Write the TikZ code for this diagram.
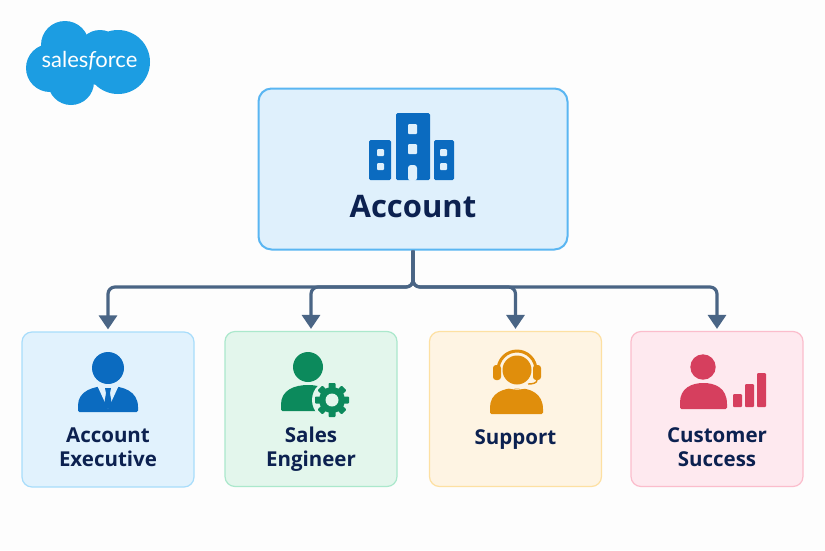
\documentclass[tikz,border=0pt]{standalone}
\usepackage{fontspec}
\setmainfont{Open Sans}
\newfontfamily\logofont{Lato}
\usetikzlibrary{arrows.meta,positioning,calc}
\definecolor{pagewhite}{HTML}{FDFDFD}
\definecolor{cloudblue}{HTML}{1C9DE2}
\definecolor{wireblue}{HTML}{4A6585}
\definecolor{inkblue}{HTML}{0C2150}
\definecolor{iconblue}{HTML}{0B6BC0}
\definecolor{icongreen}{HTML}{0C8A5C}
\definecolor{iconamber}{HTML}{E08E0C}
\definecolor{iconrose}{HTML}{D63F5E}
\definecolor{accountfill}{HTML}{DFF0FC}
\definecolor{accountline}{HTML}{5AB6F2}
\definecolor{bluefill}{HTML}{E1F2FD}
\definecolor{blueline}{HTML}{A8DDFB}
\definecolor{greenfill}{HTML}{E3F6EC}
\definecolor{greenline}{HTML}{ABE8CC}
\definecolor{amberfill}{HTML}{FEF4E3}
\definecolor{amberline}{HTML}{FDE0A2}
\definecolor{rosefill}{HTML}{FEE9EF}
\definecolor{roseline}{HTML}{FBBDCC}
\tikzset{
  card/.style={draw, line width=1.2pt, rounded corners=10pt, minimum width=172pt, minimum height=155pt},
  cardlabel/.style={text=inkblue, align=center, font=\fontsize{20.5}{24}\selectfont\bfseries},
  wire/.style={draw=wireblue, line width=3.2pt, rounded corners=7pt},
  wirehead/.style={-{Triangle[length=14pt,width=18pt]}, shorten >=2pt},
}
% shoulders: centre x, half width, top y, bottom y
\newcommand{\shoulders}[4]{
  (#1-#2,#4) [rounded corners=1.5pt] -- (#1-#2,#4-5) [sharp corners]
  .. controls (#1-#2,#3+5) and (#1-#2*0.5,#3) .. (#1,#3)
  .. controls (#1+#2*0.5,#3) and (#1+#2,#3+5) .. (#1+#2,#4-5)
  [rounded corners=1.5pt] -- (#1+#2,#4) -- cycle
}
\begin{document}
\begin{tikzpicture}[x=1pt, y=-1pt]
  \useasboundingbox[fill=pagewhite] (0,0) rectangle (825,550);

  % logo
  \fill[cloudblue] (65,45) circle[radius=24] (100,52) circle[radius=22] (118,62) circle[radius=32]
    (50,68) circle[radius=24] (71,82) circle[radius=23] (98,70) circle[radius=15];
  \node[text=white, font=\logofont\fontsize{22}{24}\selectfont] (logotext) at (89.5,61) {sales{\itshape f}orce};

  % boxes
  \node[card, draw=accountline, fill=accountfill, line width=2pt, rounded corners=13pt,
    minimum width=309pt, minimum height=161pt] (account) at (413,169) {};
  \node[card, draw=blueline, fill=bluefill] (executive) at (108,409.5) {};
  \node[card, draw=greenline, fill=greenfill] (engineer) at (311,409) {};
  \node[card, draw=amberline, fill=amberfill] (support) at (515.5,409) {};
  \node[card, draw=roseline, fill=rosefill] (success) at (717,409) {};

  % connectors
  \coordinate (bus) at (413,287);
  \foreach \target in {executive,engineer,support,success}
    \draw[wire, wirehead] (account.south) -- (bus) -| (\target.north);

  % building
  \fill[iconblue, rounded corners=1.5pt] (396,113) rectangle (430,180) (369,140) rectangle (391,180) (434,140) rectangle (454,180);
  \fill[accountfill, rounded corners=1pt] (408,124) rectangle (417,134) (408,144) rectangle (417,154)
    (377,149) rectangle (384,156) (377,163) rectangle (384,170) (440,149) rectangle (447,156) (440,163) rectangle (447,170);
  \fill[accountfill, rounded corners=3pt] (408,181) -- (408,165) -- (417,165) -- (417,181) -- cycle;
  \node[text=inkblue, font=\fontsize{31}{36}\selectfont\bfseries] (accounttext) at (413,207) {Account};

  % account executive
  \fill[iconblue] (108,368) circle[radius=16];
  \fill[iconblue] \shoulders{108}{30}{386}{412};
  \fill[bluefill] (96.5,384) -- (119.5,384) -- (108,409) -- cycle;
  \fill[iconblue] (105,388) -- (111,388) -- (110,393) -- (112,405) -- (108,409) -- (104,405) -- (106,393) -- cycle;
  \node[cardlabel] (executivetext) at (108,447) {Account\\Executive};

  % sales engineer
  \fill[icongreen] (308,367) circle[radius=15];
  \fill[icongreen] \shoulders{308}{27}{385}{411};
  \fill[greenfill] (332,400) circle[radius=20];
  \fill[icongreen] (332,400) circle[radius=13];
  \foreach \angle in {0,45,...,315}
    \fill[icongreen, rounded corners=0.8pt, shift={(332,400)}, rotate=\angle] (-3.5,-10) rectangle (3.5,-17);
  \fill[greenfill] (332,400) circle[radius=6.5];
  \node[cardlabel] (engineertext) at (311,449) {Sales\\Engineer};

  % support
  \draw[iconamber, line width=3pt] (498,370) arc[start angle=180, end angle=360, radius=19];
  \fill[iconamber] (517,370) circle[radius=14.5];
  \fill[iconamber, rounded corners=3pt] (493,365) rectangle (501,380) (533,365) rectangle (541,380);
  \draw[iconamber, line width=1.4pt] (537,380) .. controls (537,383) and (533,384) .. (528,384);
  \fill[iconamber] \shoulders{516.5}{26.5}{388}{414};
  \draw[amberfill, line width=1.2pt] (506,386) .. controls (512,390) and (522,390) .. (528,386);
  \node[cardlabel] (supporttext) at (515.5,440) {Support};

  % customer success
  \fill[iconrose] (703,367) circle[radius=12.7];
  \fill[iconrose] \shoulders{703.5}{23.5}{383}{409};
  \fill[iconrose, rounded corners=1pt] (733,394) rectangle (742,407) (745,384) rectangle (754,407) (757,373) rectangle (766,407);
  \node[cardlabel] (successtext) at (717,447) {Customer\\Success};
\end{tikzpicture}
\end{document}
